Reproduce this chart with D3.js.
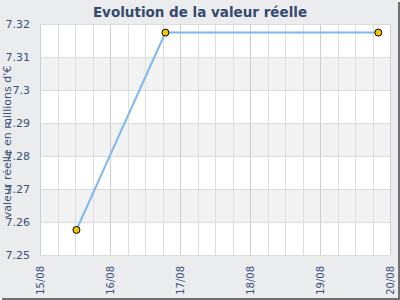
<!DOCTYPE html>
<html><head><meta charset="utf-8">
<script src="https://cdn.jsdelivr.net/npm/d3@7"></script>
<style>body{margin:0;background:#fff}svg{display:block}text{font-family:"DejaVu Sans",Verdana,sans-serif}</style>
</head><body><svg id="c" width="400" height="300"></svg>
<script>
const title = "Evolution de la valeur réelle";
const yTitle = "valeur réelle en millions d'€";
const times = ["2023-08-15T12:30", "2023-08-16T19:00", "2023-08-19T20:00"];
const values = [7.2576, 7.3174, 7.3174];
const xTickLabels = ["15/08", "16/08", "17/08", "18/08", "19/08", "20/08"];
const yTicks = [7.25, 7.26, 7.27, 7.28, 7.29, 7.30, 7.31, 7.32];

const parse = d3.timeParse("%Y-%m-%dT%H:%M");
const data = times.map((t, i) => ({t: parse(t), v: values[i]}));
const svg = d3.select("#c");
const L = 40, R = 390, T = 24, B = 255;
const textCol = "#3a5078";

svg.append("rect").attr("width", 400).attr("height", 300).attr("fill", "#fff");
svg.append("rect").attr("width", 398).attr("height", 298).attr("fill", "#ebecee");
svg.append("rect").attr("x", 2).attr("y", 298).attr("width", 398).attr("height", 2).attr("fill", "#707070");
svg.append("rect").attr("x", 398).attr("y", 2).attr("width", 2).attr("height", 298).attr("fill", "#707070");

const x0 = parse("2023-08-15T00:00"), x1 = parse("2023-08-20T00:00");
const x = d3.scaleTime().domain([x0, x1]).range([L, R]);
const y = d3.scaleLinear().domain([7.25, 7.32]).range([B, T]);

svg.append("rect").attr("x", L).attr("y", T).attr("width", R - L).attr("height", B - T).attr("fill", "#fff");
// alternate bands
yTicks.slice(0, -1).forEach((v, i) => {
  const top = yTicks[i + 1];
  if ((yTicks.length - 2 - i) % 2 === 1) {
    svg.append("rect").attr("x", L).attr("y", y(top)).attr("width", R - L)
      .attr("height", y(v) - y(top)).attr("fill", "#f2f2f2");
  }
});
// vertical grid every 6 hours
const sixH = d3.timeHour.every(6).range(x0, d3.timeHour.offset(x1, 1));
svg.append("g").selectAll("line").data(sixH).join("line")
  .attr("x1", d => Math.round(x(d)) + 0.5).attr("x2", d => Math.round(x(d)) + 0.5)
  .attr("y1", T).attr("y2", B)
  .attr("stroke", d => d.getHours() === 0 ? "#cdcdcd" : "#dedede").attr("stroke-width", 1);
svg.append("g").selectAll("line").data(yTicks).join("line")
  .attr("x1", L).attr("x2", R)
  .attr("y1", d => Math.round(y(d)) + 0.5).attr("y2", d => Math.round(y(d)) + 0.5)
  .attr("stroke", "#dcdcdc");

// y axis labels
const yAxis = d3.axisLeft(y).tickValues(yTicks).tickSize(0).tickPadding(10)
  .tickFormat(d => d3.format("")(+d.toFixed(2)));
const gy = svg.append("g").attr("transform", `translate(${L},0)`).call(yAxis);
gy.select(".domain").remove();
gy.selectAll("text").attr("fill", textCol).style("font-size", "11px");

// x axis labels
const xDays = xTickLabels.map((_, i) => d3.timeDay.offset(x0, i));
const xAxis = d3.axisBottom(x).tickValues(xDays).tickSize(0)
  .tickFormat((d, i) => xTickLabels[i]);
const gx = svg.append("g").attr("transform", `translate(0,${B})`).call(xAxis);
gx.select(".domain").remove();
gx.selectAll("text").attr("fill", textCol).style("font-size", "10px")
  .attr("transform", "rotate(-90)").attr("text-anchor", "end")
  .attr("x", -11).attr("y", 0).attr("dy", "0.35em");

// y title
svg.append("text").attr("transform", `translate(11,${142}) rotate(-90)`)
  .attr("text-anchor", "middle").attr("fill", textCol).style("font-size", "11px").text(yTitle);

// title
svg.append("text").attr("x", 200).attr("y", 17).attr("text-anchor", "middle")
  .attr("fill", "#34496e").style("font-size", "13.5px").style("font-weight", "bold").text(title);

// line
const line = d3.line().x(d => x(d.t)).y(d => y(d.v));
svg.append("path").datum(data).attr("d", line).attr("fill", "none")
  .attr("stroke", "#7db8f2").attr("stroke-width", 2);
svg.append("g").selectAll("circle").data(data).join("circle")
  .attr("cx", d => x(d.t)).attr("cy", d => y(d.v)).attr("r", 3.5)
  .attr("fill", "#f7c600").attr("stroke", "#000").attr("stroke-width", 1);
</script></body></html>
